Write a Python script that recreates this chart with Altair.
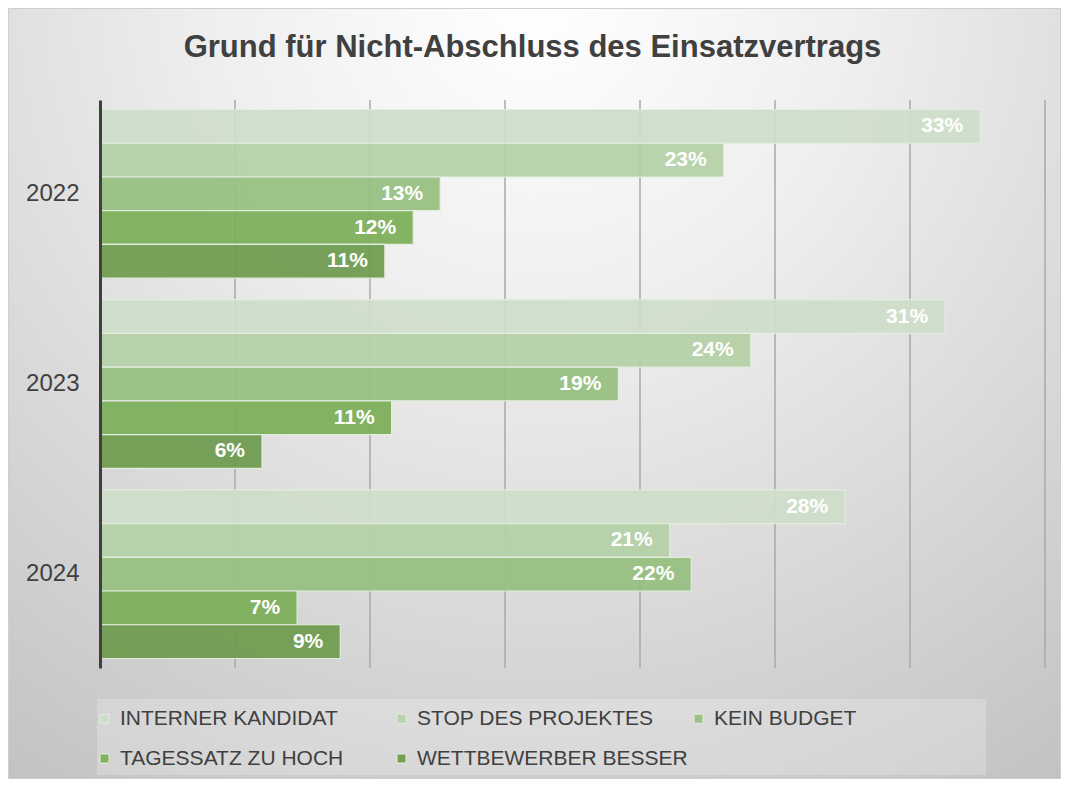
import altair as alt
import pandas as pd

years = ["2022", "2023", "2024"]
categories = ["INTERNER KANDIDAT", "STOP DES PROJEKTES", "KEIN BUDGET",
              "TAGESSATZ ZU HOCH", "WETTBEWERBER BESSER"]
values_2022 = [32.6, 23.1, 12.6, 11.6, 10.55]
values_2023 = [31.3, 24.1, 19.2, 10.8, 6.0]
values_2024 = [27.6, 21.1, 21.9, 7.3, 8.9]
colors = ["#cfdfca", "#b5d1a8", "#97c080", "#7caf5a", "#6f9c4f"]
grid_ticks = [5, 10, 15, 20, 25, 30, 35]
title_text = "Grund für Nicht-Abschluss des Einsatzvertrags"

rows = []
for y, vals in zip(years, [values_2022, values_2023, values_2024]):
    for c, v in zip(categories, vals):
        rows.append({"year": y, "category": c, "value": v})
df = pd.DataFrame(rows)

W, H = 945, 568
PL, PT, PR, PB = 92, 92, 16, 111
FONT = "Liberation Sans"

xscale = alt.Scale(domain=[0, 35], nice=False, zero=True)
yscale = alt.Scale(paddingInner=0.113, paddingOuter=0.05)

bg_grad = {
    "gradient": "radial",
    "x1": 0.5, "y1": 0.12, "r1": 0.0,
    "x2": 0.5, "y2": 0.12, "r2": 0.9,
    "stops": [
        {"offset": 0.0, "color": "#ffffff"},
        {"offset": 0.35, "color": "#eeeeee"},
        {"offset": 1.0, "color": "#c2c2c2"},
    ],
}

one = pd.DataFrame({"a": [0]})

bg = alt.Chart(one).mark_rect(fill=bg_grad, stroke="#cfcfcf", strokeWidth=1).encode(
    x=alt.value(-PL + 0.5), x2=alt.value(W + PR - 0.5),
    y=alt.value(-PT + 0.5), y2=alt.value(H + PB - 0.5),
)

legend_box = alt.Chart(one).mark_rect(fill="#ffffff", opacity=0.22).encode(
    x=alt.value(-3), x2=alt.value(886),
    y=alt.value(599), y2=alt.value(675),
)

grid = alt.Chart(pd.DataFrame({"t": grid_ticks})).mark_rule(
    color="#a8a8a8", strokeWidth=1.5
).encode(
    x=alt.X("t:Q", scale=xscale, axis=None),
    y=alt.value(0), y2=alt.value(H),
)

bars = alt.Chart(df).mark_bar(
    stroke="#e4eedf", strokeWidth=1.2, opacity=0.93
).encode(
    y=alt.Y("year:N", sort=years, scale=yscale,
            axis=alt.Axis(title=None, labelFontSize=24, labelColor="#404040",
                          labelFont=FONT, labelPadding=21, ticks=False,
                          tickSize=0, domainColor="#404040", domainWidth=3,
                          grid=False, zindex=1)),
    yOffset=alt.YOffset("category:N", sort=categories,
                        scale=alt.Scale(paddingInner=0, paddingOuter=0)),
    x=alt.X("value:Q", scale=xscale, axis=None),
    color=alt.Color("category:N",
                    scale=alt.Scale(domain=categories, range=colors),
                    legend=alt.Legend(orient="none", legendX=-6, legendY=608,
                                      direction="horizontal",
                                      title=None, columns=3, gridAlign="all",
                                      symbolType="square", symbolSize=81,
                                      symbolStrokeColor="#e4eedf",
                                      symbolStrokeWidth=1,
                                      labelFont=FONT, labelFontSize=21,
                                      labelColor="#404040", labelLimit=400,
                                      labelOffset=5, columnPadding=0,
                                      rowPadding=18, padding=0)),
)

labels = alt.Chart(df).transform_calculate(
    label="format(datum.value, '.0f') + '%'"
).mark_text(
    align="right", baseline="middle", dx=-17, color="white",
    fontWeight="bold", fontSize=21, font=FONT
).encode(
    y=alt.Y("year:N", sort=years, scale=yscale),
    yOffset=alt.YOffset("category:N", sort=categories,
                        scale=alt.Scale(paddingInner=0, paddingOuter=0)),
    x=alt.X("value:Q", scale=xscale, axis=None),
    text="label:N",
)

chart = alt.layer(bg, legend_box, grid, bars, labels).properties(
    width=W, height=H,
    autosize=alt.AutoSizeParams(type="none"),
    padding={"left": PL, "top": PT, "right": PR, "bottom": PB},
    title=alt.TitleParams(text=title_text, font=FONT, fontSize=31,
                          fontWeight="bold", color="#404040", anchor="middle",
                          frame="group", dx=-40, offset=-56),
).configure_view(stroke=None).configure(background="white")

chart.save("out.html", embed_options={"renderer": "svg", "actions": False})
